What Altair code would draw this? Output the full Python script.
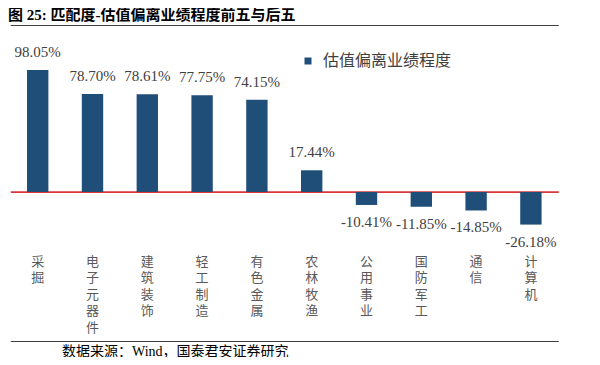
import altair as alt
import pandas as pd

# ---- data ----
categories = ["采掘", "电子元器件", "建筑装饰", "轻工制造", "有色金属",
              "农林牧渔", "公用事业", "国防军工", "通信", "计算机"]
values = [98.05, 78.70, 78.61, 77.75, 74.15, 17.44, -10.41, -11.85, -14.85, -26.18]
series_name = "估值偏离业绩程度"
title_text = "图 25:  匹配度-估值偏离业绩程度前五与后五"
source_text = "数据来源：Wind，国泰君安证券研究"

df = pd.DataFrame({
    "cat": categories,
    "value": values,
    "series": [series_name] * len(categories),
})
df["label"] = [f"{v:.2f}%" for v in values]
df["vlabel"] = ["\n".join(list(c)) for c in categories]

BAR = "#1F4E79"
RED = "#D9363E"
CJK = "Noto Sans CJK SC"
SERIF = "Liberation Serif, Noto Sans CJK SC"

# plot area (inner) geometry via padding
PL, PT = 2.3, 34.6
W, H = 548, 199.2
PR = 584 - PL - W
PB = 349 - PT - H

x_scale = alt.Scale(domain=categories, paddingInner=0.61, paddingOuter=0.305)
x_enc = alt.X("cat:N", scale=x_scale, axis=None)
# separator lines drawn as axis domain lines
x_top = alt.X("cat:N", scale=x_scale,
              axis=alt.Axis(orient="top", offset=17.6, labels=False, ticks=False, grid=False,
                            domain=True, domainColor="#404040", domainWidth=1, title=None))
x_bottom = alt.X("cat:N", scale=x_scale,
                 axis=alt.Axis(orient="bottom", offset=99.2, labels=False, ticks=False, grid=False,
                               domain=True, domainColor="#404040", domainWidth=1, title=None))

y_axis_def = alt.Axis(values=[0], grid=True, gridColor=RED, gridWidth=1.8, gridOpacity=1,
                      labels=False, ticks=False, domain=False, title=None)
y_enc = alt.Y("value:Q", scale=alt.Scale(domain=[-40, 120], nice=False), axis=y_axis_def)

base = alt.Chart(df)

bars = base.mark_bar().encode(
    x=x_top,
    y=y_enc,
    color=alt.Color("series:N",
                    scale=alt.Scale(domain=[series_name], range=[BAR]),
                    legend=alt.Legend(orient="none", legendX=292 - PL, legendY=45 - PT, title=None,
                                      symbolType="square", symbolSize=49,
                                      labelFontSize=16, labelFont=CJK,
                                      labelColor="#404040", labelOffset=7)),
)

pos_labels = base.transform_filter("datum.value >= 0").mark_text(
    dy=-18, baseline="middle", fontSize=15, font=SERIF, color="#404040"
).encode(x=x_enc, y=y_enc, text="label:N")

neg_labels = base.transform_filter("datum.value < 0").mark_text(
    dy=17, baseline="middle", fontSize=15, font=SERIF, color="#404040"
).encode(x=x_enc, y=y_enc, text="label:N")

cat_labels = base.mark_text(
    baseline="top", lineBreak="\n", lineHeight=16.5, fontSize=13, font=CJK, color="#595959"
).encode(x=x_bottom, y=alt.value(247.5 - PT), text="vlabel:N")

one = pd.DataFrame({"t": [title_text], "s": [source_text]})

title = alt.Chart(one).mark_text(
    align="left", baseline="middle", fontSize=15, fontWeight="bold", font=SERIF, color="#000000"
).encode(x=alt.value(0 - PL), y=alt.value(7 - PT), text="t:N")

source = alt.Chart(one).mark_text(
    align="left", baseline="middle", fontSize=14, font=SERIF, color="#000000"
).encode(x=alt.value(54 - PL), y=alt.value(344 - PT), text="s:N")

chart = alt.layer(
    bars, pos_labels, neg_labels, cat_labels, title, source
).properties(
    width=W, height=H,
    autosize=alt.AutoSizeParams(type="none"),
    padding={"left": PL, "top": PT, "right": PR, "bottom": PB},
).configure_view(stroke=None)

chart.save("out.html", embed_options={"renderer": "svg", "actions": False})
